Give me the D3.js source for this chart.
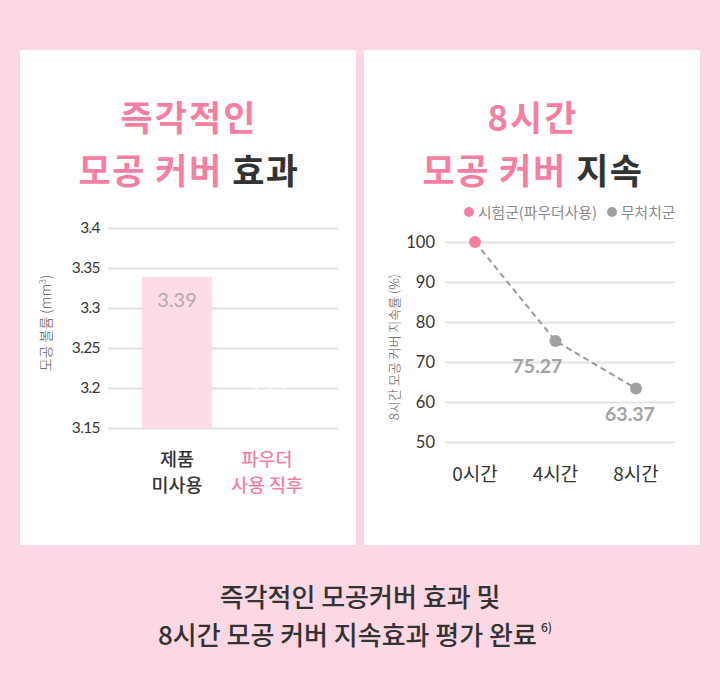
<!DOCTYPE html>
<html><head><meta charset="utf-8">
<script src="https://cdn.jsdelivr.net/npm/d3@7"></script>
<style>
html,body{margin:0;padding:0;background:#fbd8e3;}
svg{display:block;font-family:"Noto Sans CJK KR","Noto Sans",sans-serif;}
</style></head>
<body>
<svg id="c" width="720" height="700"></svg>
<script>
// ---- data ----
const barCategories = [["제품","미사용"],["파우더","사용 직후"]];
const barValues = [3.339, 3.23];
const barLabels = ["3.39", "3.23"];
const barTicks = [3.15, 3.2, 3.25, 3.3, 3.35, 3.4];
const barTickLabels = ["3.15","3.2","3.25","3.3","3.35","3.4"];

const lineCategories = ["0시간","4시간","8시간"];
const lineValues = [100, 75.27, 63.37];
const lineLabels = ["", "75.27", "63.37"];
const lineTicks = [50, 60, 70, 80, 90, 100];
const legendItems = ["시험군(파우더사용)", "무처치군"];

// style
const PINK = "#f47fa1", DARK = "#333333", GRID = "#e3e3e3";
const LABEL_DX = [0, -18, -6];
const NUMFONT = "Lato, 'Noto Sans CJK KR', sans-serif";

const svg = d3.select("#c");
svg.append("rect").attr("width",720).attr("height",700).attr("fill","#fbd8e3");

// panels
svg.append("rect").attr("x",20).attr("y",50).attr("width",336).attr("height",495).attr("fill","#fff");
svg.append("rect").attr("x",364).attr("y",50).attr("width",336).attr("height",495).attr("fill","#fff");

// titles
function title(cx, l1, l2a, l2b){
  svg.append("text").attr("x",cx+1).attr("y",131).attr("text-anchor","middle")
    .attr("font-size",35).attr("letter-spacing",2).attr("font-weight",700).attr("fill",PINK).text(l1);
  const t2 = svg.append("text").attr("x",cx+1).attr("y",184).attr("text-anchor","middle")
    .attr("font-size",35).attr("letter-spacing",1.5).attr("font-weight",700);
  t2.append("tspan").attr("fill",PINK).text(l2a);
  t2.append("tspan").attr("fill",DARK).text(l2b);
}
title(188, "즉각적인", "모공 커버 ", "효과");
title(532, "8시간", "모공 커버 ", "지속");

// ---- bar chart ----
const yB = d3.scaleLinear().domain([3.15, 3.4]).range([428, 228]);
const xB = d3.scaleBand().domain(d3.range(barCategories.length)).range([132, 312])
  .paddingInner(20/90).paddingOuter(10/90);

const gB = svg.append("g");
const axB = d3.axisLeft(yB).tickValues(barTicks).tickFormat((d,i)=>barTickLabels[i]).tickSize(-230).tickPadding(8);
const axBg = gB.append("g").attr("transform","translate(108,0)").call(axB);
axBg.select(".domain").remove();
axBg.selectAll(".tick line").attr("stroke",GRID).attr("stroke-width",2);
axBg.selectAll(".tick text").attr("fill","#3a3330").attr("font-size",15.5).attr("font-family",NUMFONT).attr("letter-spacing","-0.6");

gB.selectAll("rect.bar").data(barValues).join("rect").attr("class","bar")
  .attr("x",(d,i)=>xB(i)).attr("width",xB.bandwidth())
  .attr("y",d=>yB(d)).attr("height",d=>yB(3.15)-yB(d))
  .attr("fill",(d,i)=> i===0 ? "#fddce7" : "none");

gB.selectAll("text.bl").data(barValues).join("text").attr("class","bl")
  .attr("x",(d,i)=>xB(i)+xB.bandwidth()/2).attr("y",d=>yB(d)+30)
  .attr("text-anchor","middle").attr("font-size",20).attr("font-weight",400)
  .attr("font-family",NUMFONT)
  .attr("fill",(d,i)=> i===0 ? "#b3a9ac" : "#ffffff").text((d,i)=>barLabels[i]);

barCategories.forEach((lines,i)=>{
  const t = gB.append("text").attr("text-anchor","middle").attr("font-size",18.5).attr("font-weight",500)
    .attr("fill", i===0 ? DARK : PINK);
  lines.forEach((s,j)=>{
    t.append("tspan").attr("x",xB(i)+xB.bandwidth()/2).attr("y",466+j*26).text(s);
  });
});
gB.append("text").attr("transform","translate(51,323) rotate(-90)").attr("text-anchor","middle")
  .attr("font-size",14).attr("font-weight",300).attr("fill","#555").html("모공 볼륨 (mm<tspan dy='-5' font-size='9'>3</tspan><tspan dy='5'>)</tspan>");

// ---- line chart ----
const yL = d3.scaleLinear().domain([50, 100]).range([442, 242]);
const xL = d3.scalePoint().domain(lineCategories).range([475, 636]);
const gL = svg.append("g");
const axL = d3.axisLeft(yL).tickValues(lineTicks).tickSize(-230).tickPadding(10);
const axLg = gL.append("g").attr("transform","translate(445,0)").call(axL);
axLg.select(".domain").remove();
axLg.selectAll(".tick line").attr("stroke",GRID).attr("stroke-width",2);
axLg.selectAll(".tick text").attr("fill","#3a3330").attr("font-size",16.5).attr("font-family",NUMFONT);

gL.append("path").datum(lineValues)
  .attr("d", d3.line().x((d,i)=>xL(lineCategories[i])).y(d=>yL(d)))
  .attr("fill","none").attr("stroke","#9a9a9a").attr("stroke-width",2).attr("stroke-dasharray","6,4");

gL.selectAll("circle.pt").data(lineValues).join("circle").attr("class","pt")
  .attr("cx",(d,i)=>xL(lineCategories[i])).attr("cy",d=>yL(d)).attr("r",6)
  .attr("fill",(d,i)=> i===0 ? PINK : "#a0a0a0");

gL.selectAll("text.vl").data(lineValues).join("text").attr("class","vl")
  .attr("x",(d,i)=>xL(lineCategories[i]) + LABEL_DX[i]).attr("y",d=>yL(d)+32)
  .attr("text-anchor","middle").attr("font-size",19.5).attr("font-weight",700)
  .attr("font-family",NUMFONT)
  .attr("fill","#a3a3a3").text((d,i)=>lineLabels[i]);

gL.selectAll("text.xl").data(lineCategories).join("text").attr("class","xl")
  .attr("x",d=>xL(d)).attr("y",481).attr("text-anchor","middle").attr("font-size",19)
  .attr("font-weight",400).attr("fill",DARK).text(d=>d);

// legend
const lg = gL.append("g");
lg.append("circle").attr("cx",469).attr("cy",212).attr("r",5).attr("fill",PINK);
lg.append("text").attr("x",478).attr("y",217.5).attr("font-size",14.8).attr("fill","#8a8a8a").text(legendItems[0]);
lg.append("circle").attr("cx",612).attr("cy",212).attr("r",5).attr("fill","#a0a0a0");
lg.append("text").attr("x",621).attr("y",217.5).attr("font-size",14.8).attr("fill","#8a8a8a").text(legendItems[1]);

gL.append("text").attr("transform","translate(399,347) rotate(-90)").attr("text-anchor","middle")
  .attr("font-size",13).attr("font-weight",300).attr("fill","#555").text("8시간 모공 커버 지속률 (%)");

// ---- footer ----
svg.append("text").attr("x",360).attr("y",607).attr("text-anchor","middle").attr("font-size",26)
  .attr("font-weight",500).attr("fill",DARK).text("즉각적인 모공커버 효과 및");
const f2 = svg.append("text").attr("x",355).attr("y",645).attr("text-anchor","middle").attr("font-size",26)
  .attr("font-weight",500).attr("fill",DARK);
f2.append("tspan").text("8시간 모공 커버 지속효과 평가 완료");
f2.append("tspan").attr("dx",4).attr("dy",-13).attr("font-size",12).text("6)");
</script>
</body></html>
